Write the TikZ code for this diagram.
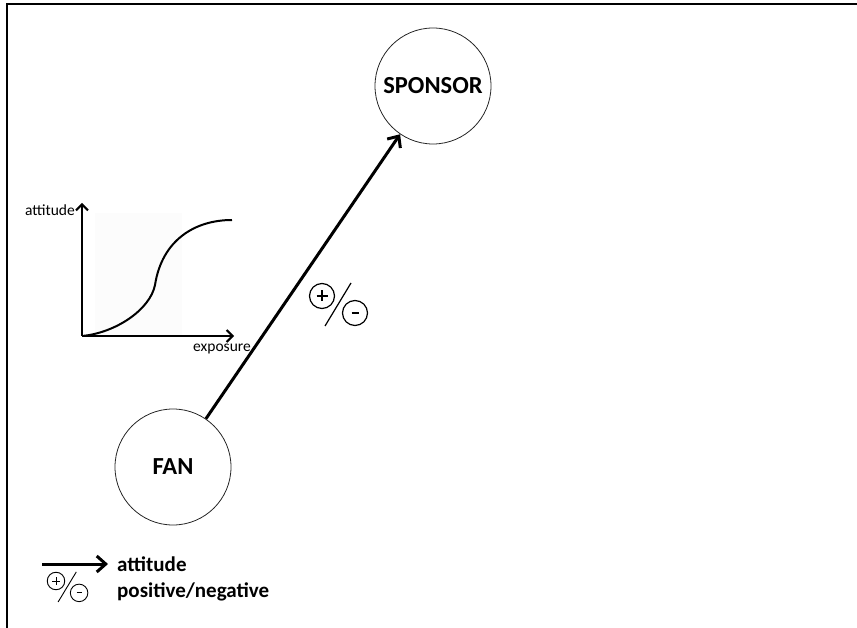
\documentclass[tikz,border=0pt]{standalone}
\usepackage{fontspec}
\setmainfont{Carlito}
\usetikzlibrary{arrows.meta}
\begin{document}
\begin{tikzpicture}[x=1pt,y=-1pt,
  party/.style={circle, draw=black!85, line width=0.8pt, minimum size=116pt,
    inner sep=0pt, font=\fontsize{24.5}{26}\selectfont\bfseries},
  attarrow/.style={line width=3pt,
    -{Straight Barb[length=9pt,width=16pt,line width=3pt]}},
  axis/.style={line width=2pt, -{Straight Barb[length=6pt,width=12pt]}},
  axislabel/.style={font=\fontsize{15.5}{17}\selectfont, inner sep=0pt},
  legendtext/.style={font=\fontsize{21}{23}\selectfont\bfseries,
    anchor=west, inner sep=0pt},
  pmcircle/.style={line width=1.2pt},
  pmmark/.style={line width=1.6pt},
  pmsign/.pic={
    % circled plus, slash, circled minus
    \draw[pmcircle] (0,0) circle (12.5pt);
    \draw[pmmark] (-5.5,0) -- (5.5,0) (0,-5.5) -- (0,5.5);
    \draw[pmcircle] (29,-13) -- (3,30);
    \draw[pmcircle] (33,17) circle (12.5pt);
    \draw[pmmark] (29.5,17) -- (36.5,17);
  },
]
\useasboundingbox (0,0) rectangle (857,628);

% frame
\draw[line width=2.2pt] (7,628) -- (7,4) -- (857,4);

% exposure / attitude sketch
\fill[black!1] (95,213) rectangle (182,336);
\coordinate (o) at (82,336);
\coordinate (ytop) at (82,203);
\coordinate (xend) at (234,336);
\draw[axis] (o) -- (ytop);
\draw[axis] (o) -- (xend);
\draw[line width=2pt] (o) .. controls (115,333) and (150,310) .. (155,285)
  .. controls (162,240) and (195,220) .. (232,220);
\node[axislabel, anchor=east] (ylab) at (75,210) {attitude};
\node[axislabel] (xlab) at (222,349) {exposure};

% fan and sponsor
\node[party] (sponsor) at (433,86) {SPONSOR};
\node[party] (fan) at (173,467) {FAN};
\draw[attarrow] (fan) -- (sponsor);
\pic at (322,296) {pmsign};

% legend
\coordinate (la) at (42,564);
\coordinate (lb) at (108,564);
\draw[attarrow] (la) -- (lb);
\node[legendtext] (lattitude) at (117,564) {attitude};
\begin{scope}[pmcircle/.style={line width=0.9pt}, pmmark/.style={line width=1pt}]
  \pic[scale=0.7] at (56,581) {pmsign};
\end{scope}
\node[legendtext] (lpm) at (117,592) {positive/negative};
\end{tikzpicture}
\end{document}
